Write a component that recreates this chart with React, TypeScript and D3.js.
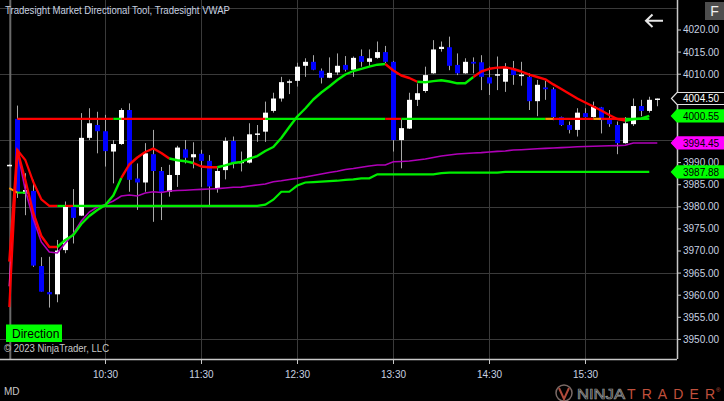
import React from 'react';
import * as d3 from 'd3';

// ---------- data ----------
const sessionStart = new Date(2023, 0, 3, 9, 30);
const barMinutes = 5;

// OHLC from 9:30 bar (previous session) through 16:15
const barOpen = [3989.4, 3999.9, 3983.0, 3983.6, 3966.6, 3960.7, 3960.2, 3970.2, 3980.0, 3978.0, 3995.6, 3998.5, 3997.1, 3992.5, 3994.2, 4001.9, 3986.4, 3985.5, 3991.9, 3988.1, 3983.4, 3987.2, 3993.0, 3991.2, 3992.0, 3990.4, 3984.2, 3988.3, 3994.9, 3989.9, 3990.0, 3996.4, 3997.0, 4001.7, 4004.5, 4008.1, 4008.5, 4011.9, 4012.8, 4010.8, 4009.2, 4010.4, 4012.1, 4011.0, 4014.1, 4012.8, 4013.7, 4015.0, 4012.8, 3995.1, 3997.7, 4004.2, 4006.2, 4010.2, 4015.7, 4016.1, 4012.1, 4010.2, 4012.8, 4012.7, 4009.3, 4009.8, 4008.3, 4011.3, 4009.7, 4009.4, 4003.9, 4007.0, 4006.6, 4000.3, 3998.5, 3997.4, 4001.2, 4000.3, 4002.5, 3999.8, 3998.5, 3994.4, 3998.7, 4002.8, 4001.7, 4004.5];
const barHigh = [3989.6, 4002.9, 3987.6, 3986.1, 3968.6, 3968.7, 3972.5, 3981.2, 3984.0, 4001.2, 4002.3, 4001.5, 4000.8, 3995.1, 4002.3, 4003.4, 3989.8, 3994.4, 3997.4, 3989.0, 3989.5, 3993.8, 3995.1, 3994.6, 3992.9, 3991.7, 3988.8, 3995.7, 3995.9, 3992.5, 3998.9, 3998.5, 4003.8, 4005.8, 4009.4, 4008.8, 4012.6, 4013.6, 4014.3, 4011.3, 4013.8, 4014.7, 4014.1, 4014.0, 4015.6, 4015.6, 4017.4, 4016.4, 4013.0, 3999.8, 4005.8, 4007.9, 4011.7, 4017.7, 4017.4, 4018.5, 4014.7, 4013.6, 4013.8, 4014.3, 4011.7, 4014.0, 4012.5, 4013.0, 4012.8, 4010.2, 4008.7, 4008.5, 4007.0, 4000.4, 3999.3, 4002.3, 4002.3, 4003.8, 4002.6, 4001.9, 3999.3, 4000.3, 4004.5, 4004.2, 4004.9, 4004.5];
const barLow = [3989.3, 3982.0, 3978.1, 3966.4, 3960.8, 3957.2, 3958.4, 3969.5, 3971.7, 3977.9, 3995.1, 3992.1, 3989.1, 3985.3, 3994.0, 3983.4, 3979.3, 3983.4, 3976.6, 3977.0, 3982.3, 3984.5, 3989.8, 3988.7, 3984.5, 3980.4, 3983.2, 3986.2, 3988.7, 3988.0, 3989.8, 3994.7, 3994.7, 4001.3, 4003.8, 4005.5, 4007.2, 4009.4, 4010.9, 4007.9, 4009.1, 4009.8, 4010.6, 4009.4, 4011.7, 4011.7, 4013.5, 4012.5, 3992.5, 3988.7, 3997.6, 4002.8, 4005.8, 4010.1, 4015.1, 4010.9, 4009.8, 4010.1, 4010.2, 4006.4, 4005.3, 4006.4, 4006.0, 4007.6, 4007.4, 4001.9, 4000.5, 4004.2, 3999.6, 3998.3, 3996.6, 3995.9, 4000.2, 4000.2, 3996.6, 3998.1, 3991.9, 3994.3, 3998.3, 4000.5, 4001.3, 4002.75];
const barClose = [3989.5, 3983.4, 3983.8, 3966.7, 3960.8, 3960.2, 3970.1, 3980.0, 3977.5, 3995.6, 3998.9, 3997.1, 3992.6, 3994.2, 4001.9, 3986.1, 3985.5, 3992.1, 3988.1, 3983.4, 3987.2, 3993.4, 3991.1, 3991.9, 3990.4, 3984.6, 3988.1, 3994.9, 3989.8, 3990.2, 3996.4, 3996.6, 4001.3, 4004.5, 4008.2, 4008.4, 4011.7, 4012.8, 4011.0, 4009.2, 4010.3, 4011.9, 4011.0, 4013.7, 4012.8, 4013.6, 4015.0, 4012.8, 3995.1, 3997.8, 4004.2, 4005.7, 4009.8, 4015.6, 4016.2, 4011.9, 4010.2, 4012.8, 4012.4, 4009.4, 4007.9, 4010.0, 4011.6, 4009.8, 4009.9, 4003.9, 4007.6, 4006.6, 4000.3, 3998.5, 3997.4, 4001.3, 4000.3, 4002.7, 3999.6, 3998.7, 3994.4, 3998.9, 4002.8, 4001.7, 4004.2, 4004.5];

// Directional tool: fast line (from bar 0)
const fastLine = [3967.6, 3992.85, 3986.06, 3978.6, 3973.39, 3970.9, 3970.9, 3972.49, 3973.62, 3976.11, 3977.92, 3979.28, 3980.41, 3982.56, 3986.52, 3989.57, 3991.15, 3992.4, 3993.19, 3992.17, 3990.93, 3990.54, 3990.32, 3989.91, 3989.12, 3988.94, 3988.94, 3989.39, 3989.91, 3990.14, 3990.88, 3991.49, 3992.62, 3993.53, 3995.57, 3998.05, 4000.43, 4002.24, 4004.28, 4005.86, 4007.22, 4008.69, 4009.93, 4010.72, 4011.22, 4011.7, 4012.15, 4012.31, 4010.84, 4009.71, 4009.14, 4008.3, 4008.17, 4008.42, 4008.64, 4008.35, 4007.94, 4007.94, 4009.37, 4010.61, 4011.22, 4011.49, 4011.56, 4011.18, 4010.61, 4009.91, 4009.37, 4008.85, 4007.69, 4006.65, 4005.57, 4004.5, 4003.6, 4002.69, 4001.79, 4000.77, 3999.86, 3999.48, 3999.8, 3999.98, 4000.55];
const fastStates = [
  { from: 0, to: 6, s: 'dn' }, { from: 6, to: 14, s: 'up' }, { from: 14, to: 20, s: 'dn' },
  { from: 20, to: 23, s: 'up' }, { from: 23, to: 26, s: 'dn' }, { from: 26, to: 47, s: 'up' },
  { from: 47, to: 51, s: 'dn' }, { from: 51, to: 58, s: 'up' }, { from: 58, to: 77, s: 'dn' },
  { from: 77, to: 80, s: 'up' },
];

// Directional tool: slow stepped line
const slowLine = [3957.3, 3992.85, 3990.6, 3985.6, 3981.7, 3980.2, 3980.2, 3980.2, 3980.2, 3980.2, 3980.2, 3980.2, 3980.2, 3980.2, 3980.2, 3980.2, 3980.2, 3980.2, 3980.2, 3980.2, 3980.2, 3980.2, 3980.2, 3980.2, 3980.2, 3980.2, 3980.2, 3980.2, 3980.2, 3980.2, 3980.2, 3980.2, 3980.5, 3981.6, 3983.4, 3983.4, 3984.8, 3985.5, 3985.6, 3985.7, 3985.8, 3985.9, 3986.1, 3986.2, 3986.45, 3986.45, 3987.35, 3987.35, 3987.35, 3987.35, 3987.35, 3987.35, 3987.35, 3987.35, 3987.6, 3987.75, 3987.75, 3987.75, 3987.75, 3987.75, 3987.75, 3987.75, 3987.88, 3987.88, 3987.88, 3987.88, 3987.88, 3987.88, 3987.88, 3987.88, 3987.88, 3987.88, 3987.88, 3987.88, 3987.88, 3987.88, 3987.88, 3987.88, 3987.88, 3987.88, 3987.88];
const slowStates = [
  { from: 0, to: 6, s: 'dn' }, { from: 6, to: 7, s: 'up' }, { from: 7, to: 8, s: 'dn' }, { from: 8, to: 80, s: 'up' },
];

// Directional tool: opening level
const levelValue = 3999.9;
const levelStates = [
  { from: 1, to: 13, s: 'dn' }, { from: 13, to: 14, s: 'up' }, { from: 14, to: 32, s: 'dn' },
  { from: 32, to: 47, s: 'up' }, { from: 47, to: 49, s: 'dn' }, { from: 49, to: 67, s: 'up' },
  { from: 67, to: 68, s: 'nt' }, { from: 68, to: 73, s: 'dn' }, { from: 73, to: 74, s: 'nt' },
  { from: 74, to: 77, s: 'dn' }, { from: 77, to: 80, s: 'up' },
];

// previous-session stub of the level
const preLevel = [3984.2, 3983.2, 3983.2];
const preStates = [{ from: 0, to: 1, s: 'nt' }, { from: 1, to: 2, s: 'up' }];

// Tradesight VWAP
const vwap = [3962.0, 3992.85, 3983.8, 3977.24, 3972.04, 3969.77, 3969.55, 3971.74, 3973.91, 3976.79, 3978.82, 3979.95, 3980.52, 3981.31, 3982.44, 3982.67, 3982.44, 3983.12, 3983.42, 3983.24, 3983.57, 3983.69, 3983.76, 3983.87, 3983.94, 3984.03, 3984.12, 3984.25, 3984.41, 3984.46, 3984.71, 3984.93, 3985.16, 3985.66, 3985.88, 3986.18, 3986.43, 3986.74, 3987.1, 3987.42, 3987.76, 3988.05, 3988.44, 3988.67, 3988.96, 3989.23, 3989.46, 3989.46, 3990.18, 3990.25, 3990.36, 3990.59, 3990.81, 3991.15, 3991.49, 3991.72, 3991.95, 3992.06, 3992.17, 3992.26, 3992.4, 3992.53, 3992.62, 3992.85, 3992.92, 3993.01, 3993.12, 3993.21, 3993.3, 3993.39, 3993.48, 3993.57, 3993.64, 3993.71, 3993.76, 3993.8, 3993.85, 3993.94, 3994.43, 3994.45, 3994.45, 3994.45];

const priceTicks = [4020, 4015, 4010, 4005, 4000, 3995, 3990, 3985, 3980, 3975, 3970, 3965, 3960, 3955, 3950];
const gridPrices = [4025, 4010, 3995, 3980, 3965, 3950];
const timeTickLabels = ['10:30', '11:30', '12:30', '13:30', '14:30', '15:30'];

const stateColor: Record<string, string> = { up: '#00ee00', dn: '#ff0000', nt: '#ff9900' };
const FONT = '"Liberation Sans", Arial, sans-serif';

export default function App() {
  const x = d3.scaleTime()
    .domain([sessionStart, d3.timeMinute.offset(sessionStart, 420)])
    .range([9.3, 681.3]);
  const y = d3.scaleLinear().domain([3950, 4020]).range([339.4, 30]);
  const tAt = (k: number) => d3.timeMinute.offset(sessionStart, barMinutes * k);
  const xAt = (k: number) => x(tAt(k));
  const parseHM = (s: string) => {
    const [h, m] = s.split(':').map(Number);
    const d = new Date(sessionStart);
    d.setHours(h, m);
    return d;
  };

  const plotRight = 677;
  const plotBottom = 359;

  const segPath = (vals: number[], from: number, to: number) => {
    const pts: [number, number][] = [];
    for (let k = from; k <= to; k++) pts.push([xAt(k), y(vals[k])]);
    return d3.line()(pts) || '';
  };
  const constPath = (v: number, from: number, to: number) =>
    d3.line()([[xAt(from), y(v)], [xAt(to), y(v)]]) || '';

  const markers = [
    { v: barClose[barClose.length - 1], fill: '#000', stroke: '#e0e0e0', text: '#fff' },
    { v: fastLine[fastLine.length - 1], fill: '#00ff00', stroke: '#00ff00', text: '#000' },
    { v: vwap[vwap.length - 1], fill: '#ff00ff', stroke: '#ff00ff', text: '#000' },
    { v: slowLine[slowLine.length - 1], fill: '#00ff00', stroke: '#00ff00', text: '#000' },
  ];
  const mh = 6; // half height of a price marker
  // axis labels hidden behind a marker are not drawn (as in the platform)
  const visibleTicks = priceTicks.filter((p) => !markers.some((m) => Math.abs(y(m.v) - y(p)) < 8));

  return (
    <svg width={724} height={401} style={{ position: 'absolute', left: 0, top: 0, display: 'block' }}
      fontFamily={FONT}>
      <rect x={0} y={0} width={724} height={401} fill="#000" />

      {/* grid */}
      {gridPrices.map((p) => (
        <line key={'g' + p} x1={0} x2={plotRight} y1={Math.round(y(p)) + 0.5} y2={Math.round(y(p)) + 0.5}
          stroke="#3a3a3a" strokeWidth={1} />
      ))}
      {timeTickLabels.map((t) => (
        <line key={'v' + t} x1={Math.round(x(parseHM(t))) + 0.5} x2={Math.round(x(parseHM(t))) + 0.5}
          y1={0} y2={plotBottom} stroke="#3a3a3a" strokeWidth={1} />
      ))}
      {/* session break */}
      <line x1={xAt(0) + 1} x2={xAt(0) + 1} y1={0} y2={plotBottom} stroke="#6a6a6a" strokeWidth={2} />

      {/* candles */}
      {barOpen.map((o, k) => {
        const c = barClose[k];
        const up = c >= o;
        const cx = Math.round(xAt(k));
        const top = y(Math.max(o, c));
        const bot = y(Math.min(o, c));
        return (
          <g key={'b' + k}>
            <line x1={cx + 0.5} x2={cx + 0.5} y1={y(barHigh[k])} y2={y(barLow[k])} stroke="#a8a8a8" strokeWidth={1} />
            <rect x={cx - 2} y={top} width={5} height={Math.max(1.5, bot - top)} fill={up ? '#ffffff' : '#0000ff'} />
          </g>
        );
      })}

      {/* VWAP */}
      <path d={segPath(vwap, 0, 1)} fill="none" stroke="#ff33cc" strokeWidth={1.6} />
      <path d={segPath(vwap, 1, vwap.length - 1)} fill="none" stroke="#b000b8" strokeWidth={1.6} />

      {/* slow line */}
      {slowStates.map((r, i) => (
        <path key={'s' + i} d={segPath(slowLine, r.from, r.to)} fill="none" stroke={stateColor[r.s]} strokeWidth={2.2} />
      ))}
      {/* level line */}
      {levelStates.map((r, i) => (
        <path key={'l' + i} d={constPath(levelValue, r.from, r.to)} fill="none" stroke={stateColor[r.s]} strokeWidth={2.2} />
      ))}
      {preStates.map((r, i) => (
        <path key={'p' + i} d={segPath(preLevel, r.from, r.to)} fill="none" stroke={stateColor[r.s]} strokeWidth={2} />
      ))}
      {/* fast line */}
      {fastStates.map((r, i) => (
        <path key={'f' + i} d={segPath(fastLine, r.from, r.to)} fill="none" stroke={stateColor[r.s]} strokeWidth={2.4}
          strokeLinejoin="round" />
      ))}

      {/* axes */}
      <line x1={0} x2={plotRight} y1={plotBottom + 0.5} y2={plotBottom + 0.5} stroke="#c8c8c8" strokeWidth={1.5} />
      <line x1={plotRight + 0.5} x2={plotRight + 0.5} y1={0} y2={plotBottom} stroke="#c8c8c8" strokeWidth={1.5} />
      {priceTicks.map((p) => (
        <line key={'ptk' + p} x1={plotRight} x2={plotRight + 4} y1={y(p)} y2={y(p)} stroke="#c8c8c8" />
      ))}
      {visibleTicks.map((p) => (
        <text key={'pt' + p} x={683} y={y(p) + 3.4} fontSize={10} fill="#c8d2e0">{d3.format('.2f')(p)}</text>
      ))}
      {timeTickLabels.map((t) => {
        const xx = Math.round(x(parseHM(t))) + 0.5;
        return (
          <g key={'tt' + t}>
            <line x1={xx} x2={xx} y1={plotBottom} y2={plotBottom + 5} stroke="#c8c8c8" />
            <text x={xx} y={377.5} fontSize={10} fill="#c8d2e0" textAnchor="middle">{t}</text>
          </g>
        );
      })}

      {/* price markers */}
      {markers.map((m, i) => {
        const cy = y(m.v);
        const pts = [[671.5, cy], [677, cy - mh], [726, cy - mh], [726, cy + mh], [677, cy + mh]];
        return (
          <g key={'m' + i}>
            <polygon points={pts.map((p) => p.join(',')).join(' ')} fill={m.fill} stroke={m.stroke} strokeWidth={1.2} />
            <text x={683} y={cy + 3.6} fontSize={10} fill={m.text}>{d3.format('.2f')(m.v)}</text>
          </g>
        );
      })}

      {/* title */}
      <text x={5} y={14} fontSize={10.5} fill="#c8d2e0" textLength={225} lengthAdjust="spacingAndGlyphs">
        Tradesight Market Directional Tool, Tradesight VWAP
      </text>

      {/* F button and arrow */}
      <rect x={705} y={2} width={19} height={18} fill="#4d4d4d" />
      <text x={714.5} y={16} fontSize={14} fill="#f0f0f0" textAnchor="middle">F</text>
      <path d="M646,20.7 L663,20.7 M652.5,14.5 L646,20.7 L652.5,27" fill="none" stroke="#e6e6e6" strokeWidth={2} />

      {/* Direction label */}
      <rect x={6} y={324.5} width={56} height={17.5} fill="#00ff00" />
      <text x={12} y={338} fontSize={12} fill="#000">Direction</text>

      <text x={4} y={351.5} fontSize={10} fill="#c8c8c8" textLength={105} lengthAdjust="spacingAndGlyphs">© 2023 NinjaTrader, LLC</text>
      <text x={4} y={394.5} fontSize={10} fill="#c8c8c8">MD</text>

      {/* NinjaTrader logo */}
      <g>
        <circle cx={564} cy={393} r={8} fill="none" stroke="#7a6a66" strokeWidth={1.5} />
        <path d="M559,388 L564,399 L569,388" fill="none" stroke="#b04a3a" strokeWidth={2} />
        <text x={577} y={398.5} fontSize={14} fill="none" stroke="#9a9a9a" strokeWidth={0.7}
          textLength={48} lengthAdjust="spacingAndGlyphs">NINJA</text>
        <text x={627} y={398.5} fontSize={14} fill="#c0503c" fontWeight={300}
          textLength={88} lengthAdjust="spacing">TRADER</text>
        <text x={716} y={392} fontSize={6} fill="#c0503c">®</text>
      </g>
    </svg>
  );
}
